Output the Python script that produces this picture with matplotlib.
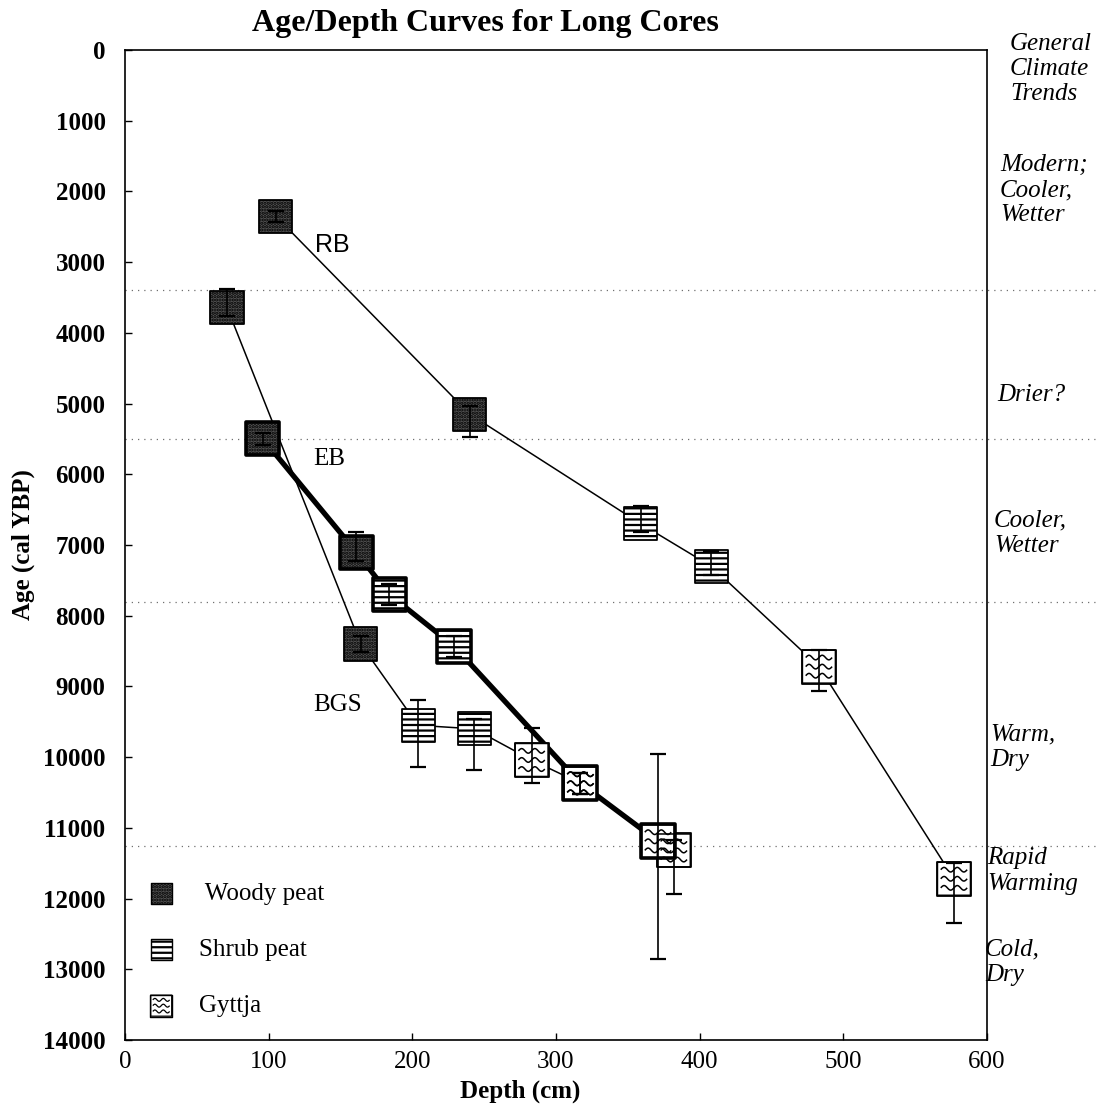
import numpy as np
import matplotlib
matplotlib.use("Agg")
import matplotlib.pyplot as plt
from matplotlib.path import Path
from matplotlib.legend_handler import HandlerTuple

plt.rcParams['font.family'] = ['Liberation Serif', 'DejaVu Serif']
plt.rcParams['hatch.linewidth'] = 1.6

# RB core
rb_depth = [105, 240, 359, 408, 483, 577]
rb_age = [2350, 5150, 6700, 7300, 8720, 11720]
rb_err_lo = [80, 120, 250, 220, 230, 230]
rb_err_hi = [80, 320, 120, 120, 350, 620]
rb_type = ["woody", "woody", "shrub", "shrub", "gyttja", "gyttja"]

# EB core
eb_depth = [96, 161, 184, 229, 317, 371]
eb_age = [5500, 7100, 7700, 8430, 10370, 11190]
eb_err_lo = [80, 280, 150, 150, 150, 1240]
eb_err_hi = [80, 120, 150, 150, 150, 1670]
eb_type = ["woody", "woody", "shrub", "shrub", "gyttja", "gyttja"]

# BGS core
bgs_depth = [71, 164, 204, 243, 283, 317, 382]
bgs_age = [3640, 8400, 9550, 9600, 10040, 10370, 11320]
bgs_err_lo = [260, 120, 355, 135, 450, 150, 150]
bgs_err_hi = [120, 120, 590, 575, 325, 150, 610]
bgs_type = ["woody", "woody", "shrub", "shrub", "gyttja", "gyttja", "gyttja"]

# climate zone boundaries (cal YBP) and notes
climate_bounds = [3400, 5500, 7800, 11250]
climate_notes = ["General\nClimate\nTrends", "Modern;\nCooler,\nWetter", "Drier?",
                 "Cooler,\nWetter", "Warm,\nDry", "Rapid\nWarming", "Cold,\nDry"]
note_pos = [(1010, 69), (1000, 190), (997, 395), (994, 533), (990, 747), (987, 871), (985, 962)]

W, H = 1105, 1114


def wave_marker():
    """square outline with three rows of small waves (gyttja symbol)"""
    verts = [(-1, -1), (1, -1), (1, 1), (-1, 1), (-1, -1)]
    codes = [Path.MOVETO, Path.LINETO, Path.LINETO, Path.LINETO, Path.CLOSEPOLY]
    t = np.linspace(-0.8, 0.8, 33)
    for y0 in (0.55, 0.0, -0.55):
        ys = y0 + 0.14 * np.sin((t + 0.8) * 2 * np.pi / 0.8)
        verts += list(zip(t, ys))
        codes += [Path.MOVETO] + [Path.LINETO] * (len(t) - 1)
    return Path(verts, codes)


WAVE = wave_marker()
STYLE = {
    "woody": dict(facecolor="#545454", hatch="....."),
    "shrub": dict(facecolor="white", hatch="---"),
    "gyttja": dict(facecolor="white"),
}


def draw_markers(ax, depth, age, types, lw, size=565):
    depth = np.asarray(depth)
    age = np.asarray(age)
    types = np.asarray(types)
    for kind, st in STYLE.items():
        m = types == kind
        if not m.any():
            continue
        ax.scatter(depth[m], age[m], marker="s", s=size, edgecolors="black",
                   linewidths=lw, zorder=4, **st)
        if kind == "gyttja":
            ax.scatter(depth[m], age[m], marker=WAVE, s=size, facecolors="none",
                       edgecolors="black", linewidths=1.1, zorder=5)


fig = plt.figure(figsize=(W / 100, H / 100), dpi=100)
ax = fig.add_axes([125 / W, 1 - 1040 / H, 862 / W, 990 / H])

# curves
ax.plot(rb_depth, rb_age, color="black", lw=1.1, zorder=2)
ax.plot(bgs_depth, bgs_age, color="black", lw=1.1, zorder=2)
ax.plot(eb_depth, eb_age, color="black", lw=3.8, zorder=3, solid_capstyle="round")

draw_markers(ax, rb_depth, rb_age, rb_type, 1.3)
draw_markers(ax, bgs_depth, bgs_age, bgs_type, 1.3)
draw_markers(ax, eb_depth, eb_age, eb_type, 2.6)

for d, a, lo, hi in [(rb_depth, rb_age, rb_err_lo, rb_err_hi),
                     (eb_depth, eb_age, eb_err_lo, eb_err_hi),
                     (bgs_depth, bgs_age, bgs_err_lo, bgs_err_hi)]:
    ax.errorbar(d, a, yerr=[lo, hi], fmt="none", ecolor="black", elinewidth=1.2,
                capsize=6, capthick=1.6, zorder=6)

# climate boundaries, running out past the right axis
for b in climate_bounds:
    ax.axhline(b, xmin=0, xmax=1.13, color="#707070", lw=0.9, ls=(0, (1, 4)),
               clip_on=False, zorder=1)

# core labels
ax.text(144, 2760, "RB", fontsize=18, family=["Liberation Sans", "DejaVu Sans"],
        ha="center", va="center")
ax.text(142, 5790, "EB", fontsize=18, ha="center", va="center")
ax.text(148, 9260, "BGS", fontsize=18, ha="center", va="center")

ax.set_xlim(0, 600)
ax.set_ylim(14000, 0)
ax.set_xticks(range(0, 601, 100))
ax.set_yticks(range(0, 14001, 1000))
ax.tick_params(axis="both", direction="in", length=5, width=1.0)
ax.tick_params(axis="x", labelsize=18, pad=8)
ax.tick_params(axis="y", labelsize=18, pad=14)
for lab in ax.get_yticklabels():
    lab.set_fontweight("bold")
for sp in ax.spines.values():
    sp.set_linewidth(1.2)

ax.set_xlabel("Depth (cm)", fontsize=18, fontweight="bold")
ax.xaxis.set_label_coords(0.459, -0.040)
ax.set_ylabel("Age (cal YBP)", fontsize=18, fontweight="bold")
ax.yaxis.set_label_coords(-0.104, 0.5)

# legend
leg_s = 229
h_woody = ax.scatter([], [], marker="s", s=leg_s, edgecolors="black", linewidths=1.0,
                     **STYLE["woody"])
h_shrub = ax.scatter([], [], marker="s", s=leg_s, edgecolors="black", linewidths=1.0,
                     **STYLE["shrub"])
h_gy1 = ax.scatter([], [], marker="s", s=leg_s, facecolors="white", edgecolors="black",
                   linewidths=1.0)
h_gy2 = ax.scatter([], [], marker=WAVE, s=leg_s, facecolors="none", edgecolors="black",
                   linewidths=0.9)
ax.legend([h_woody, h_shrub, (h_gy1, h_gy2)], [" Woody peat", "Shrub peat", "Gyttja"],
          handler_map={tuple: HandlerTuple(ndivide=1)}, loc="lower left",
          bbox_to_anchor=(0.013, 0.023), frameon=False, fontsize=18, labelspacing=1.35,
          handletextpad=0.5, handlelength=2.0, borderpad=0, borderaxespad=0)

fig.text(485 / W, 1 - 23 / H, "Age/Depth Curves for Long Cores", fontsize=23,
         fontweight="bold", ha="center", va="center")

for txt, (px, py) in zip(climate_notes, note_pos):
    fig.text(px / W, 1 - py / H, txt, fontsize=18, style="italic", ha="left",
             va="center", linespacing=1.2)

fig.savefig("out.png", dpi=100)
